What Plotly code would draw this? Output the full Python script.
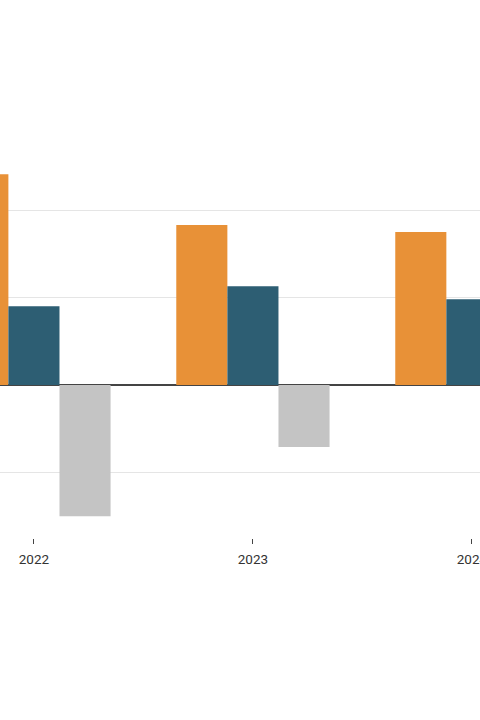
import plotly.graph_objects as go

# Data (units: gridline step = 10)
years = ["2022", "2023", "2024"]
series_a = [24.1, 18.3, 17.5]     # orange
series_b = [9.0, 11.3, 9.8]       # dark teal
series_c = [-15.0, -7.1, None]    # grey (2024 value lies outside the visible area)

colors = ["#E89137", "#2D5E73", "#C4C4C4"]
names = ["Series A", "Series B", "Series C"]

fig = go.Figure()
for name, vals, col in zip(names, [series_a, series_b, series_c], colors):
    fig.add_trace(go.Bar(x=years, y=vals, name=name, marker=dict(color=col, line=dict(width=0))))

fig.update_layout(
    width=480,
    height=720,
    autosize=False,
    barmode="group",
    bargap=0.3,
    bargroupgap=0,
    showlegend=False,
    plot_bgcolor="white",
    paper_bgcolor="white",
    margin=dict(l=0, r=0, t=149, b=182),
    font=dict(family="Roboto", size=13.5, color="#333333"),
    xaxis=dict(
        type="category",
        range=[-0.155, 2.037],
        automargin=False,
        showgrid=False,
        showline=False,
        ticks="outside",
        ticklen=5,
        tickwidth=1,
        tickcolor="#444444",
        ticklabelstandoff=4,
        tickfont=dict(size=13.5, color="#333333"),
    ),
    yaxis=dict(
        range=[-17.5, 27],
        dtick=10,
        automargin=False,
        showticklabels=False,
        showgrid=True,
        gridcolor="#E5E5E5",
        gridwidth=1,
        zeroline=True,
        zerolinecolor="#444444",
        zerolinewidth=1.5,
        showline=False,
    ),
)

# fixed-size figure, no toolbar, flush with the window edges
fig.write_html(
    "out.html",
    config={"responsive": False, "displayModeBar": False},
    post_script="document.body.style.margin = '0';",
)
